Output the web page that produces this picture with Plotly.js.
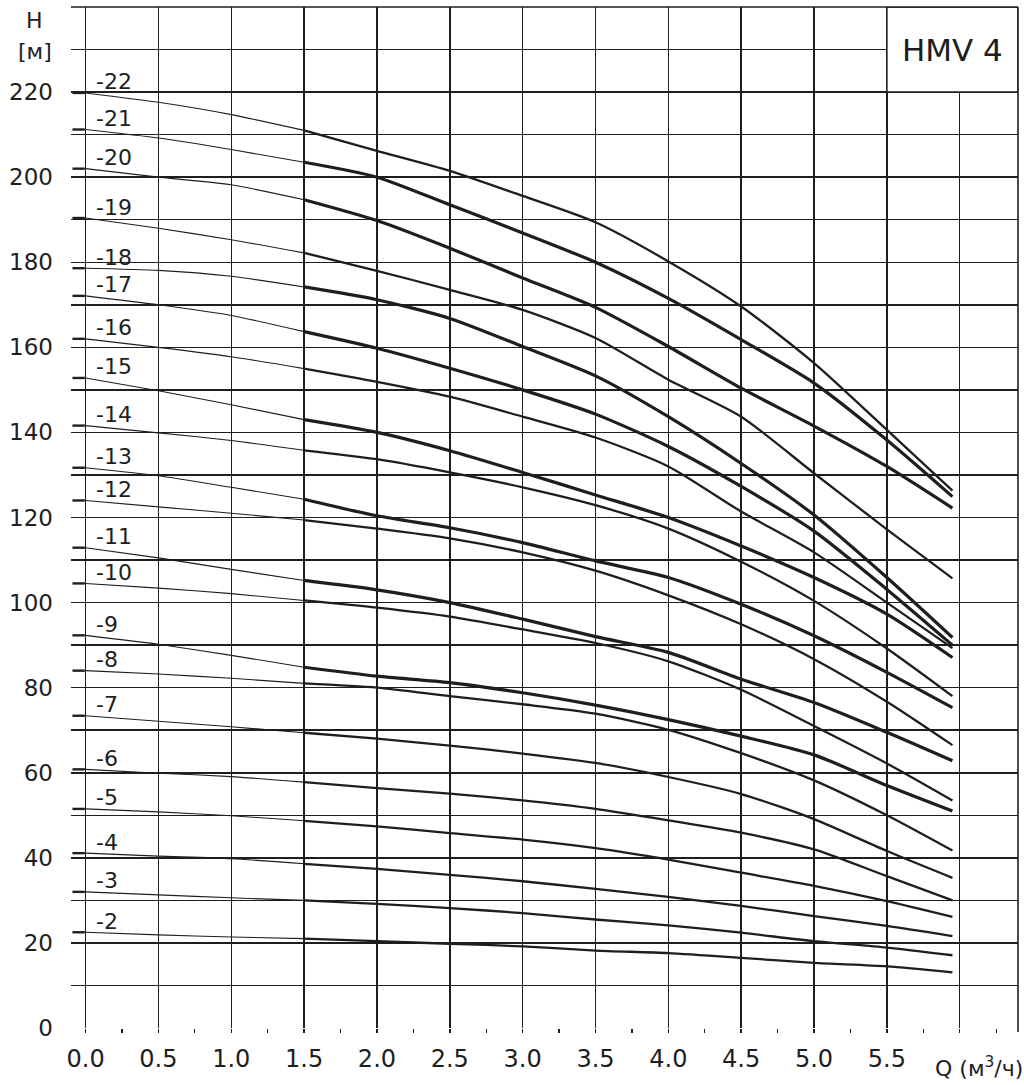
<!DOCTYPE html>
<html>
<head>
<meta charset="utf-8">
<script src="https://cdn.plot.ly/plotly-3.0.1.min.js"></script>
<style>
  html, body { margin: 0; padding: 0; background: #fff; }
  #chart { width: 1024px; height: 1085px; }
</style>
</head>
<body>
<div id="chart"></div>
<script>
// ---- data ----
const qPoints = [0, 0.5, 1.0, 1.5, 2.0, 2.5, 3.0, 3.5, 4.0, 4.5, 5.0, 5.5, 5.95];
const splitIndex = 3; // curve is drawn thin up to Q = 1.5, heavy afterwards

const h22 = [219.8, 217.6, 214.7, 211.0, 206.2, 201.5, 195.6, 189.4, 180.2, 169.6, 156.3, 140.6, 126.3];
const h21 = [211.2, 209.2, 206.5, 203.5, 200.0, 193.5, 186.9, 180.0, 171.5, 161.8, 151.6, 138.2, 124.9];
const h20 = [202.0, 200.0, 198.2, 194.7, 189.8, 183.3, 176.3, 169.4, 160.2, 150.4, 141.5, 132.0, 122.2];
const h19 = [190.4, 188.0, 185.3, 182.2, 178.0, 173.5, 168.8, 162.2, 152.4, 143.7, 130.4, 117.2, 105.7];
const h18 = [178.6, 178.1, 176.7, 174.2, 171.2, 166.8, 160.2, 153.3, 143.7, 132.7, 120.6, 105.9, 91.8];
const h17 = [172.1, 170.0, 167.5, 163.7, 159.8, 155.1, 150.0, 144.3, 136.7, 127.3, 116.8, 103.1, 90.0];
const h16 = [162.0, 160.0, 157.8, 155.0, 151.9, 148.4, 143.7, 138.8, 132.0, 121.4, 111.8, 100.0, 89.3];
const h15 = [152.8, 149.8, 146.5, 143.0, 140.0, 135.7, 130.6, 125.3, 120.0, 113.3, 105.9, 97.3, 87.1];
const h14 = [141.6, 139.9, 138.1, 135.8, 133.7, 130.6, 127.1, 122.9, 117.4, 109.6, 100.4, 89.2, 78.0];
const h13 = [131.7, 129.8, 127.1, 124.3, 120.4, 117.6, 114.1, 109.8, 105.9, 99.6, 92.2, 83.6, 75.3];
const h12 = [124.0, 122.5, 121.0, 119.4, 117.4, 115.1, 111.8, 107.5, 101.7, 94.9, 86.7, 76.7, 66.5];
const h11 = [112.9, 110.5, 107.8, 105.2, 103.0, 100.0, 96.1, 92.0, 88.3, 82.0, 76.5, 69.5, 62.8];
const h10 = [104.5, 103.4, 102.1, 100.5, 98.8, 96.7, 93.7, 90.5, 86.2, 79.5, 71.0, 62.2, 53.5];
const h9  = [92.3, 90.2, 87.6, 84.8, 82.7, 81.2, 78.8, 75.9, 72.5, 68.6, 64.2, 57.0, 51.0];
const h8  = [84.0, 83.2, 82.2, 81.0, 80.0, 78.0, 76.1, 73.9, 70.1, 64.6, 58.2, 50.0, 41.7];
const h7  = [73.4, 72.1, 70.8, 69.4, 68.0, 66.4, 64.5, 62.3, 59.0, 55.0, 49.1, 41.6, 35.3];
const h6  = [60.8, 59.9, 59.1, 57.8, 56.4, 55.1, 53.5, 51.5, 48.8, 45.9, 42.0, 35.7, 30.0];
const h5  = [51.5, 50.8, 49.9, 48.7, 47.4, 45.8, 44.3, 42.3, 39.6, 36.5, 33.4, 29.8, 26.1];
const h4  = [41.1, 40.4, 39.8, 38.6, 37.4, 36.0, 34.5, 32.7, 30.8, 28.7, 26.3, 24.0, 21.6];
const h3  = [32.0, 31.3, 30.6, 30.0, 29.2, 28.2, 27.0, 25.5, 24.1, 22.4, 20.4, 18.9, 17.1];
const h2  = [22.5, 21.9, 21.4, 21.0, 20.4, 19.8, 19.2, 18.2, 17.6, 16.5, 15.3, 14.5, 13.1];

const stageLabels = ['-22','-21','-20','-19','-18','-17','-16','-15','-14','-13','-12','-11',
                     '-10','-9','-8','-7','-6','-5','-4','-3','-2'];
const stageHeads = [h22,h21,h20,h19,h18,h17,h16,h15,h14,h13,h12,h11,h10,h9,h8,h7,h6,h5,h4,h3,h2];
const heavyStages = ['-21','-20','-18','-17','-15','-13','-11','-9'];

const xTickValues = [0,0.5,1,1.5,2,2.5,3,3.5,4,4.5,5,5.5,6];
const xTickLabels = ['0.0','0.5','1.0','1.5','2.0','2.5','3.0','3.5','4.0','4.5','5.0','5.5',' '];
const yGridValues = [0,10,20,30,40,50,60,70,80,90,100,110,120,130,140,150,160,170,180,190,200,210,220,230,240];
const yLabelValues = [0,20,40,60,80,100,120,140,160,180,200,220];

// ---- styling ----
const INK = '#1e1e1e';
const FONT = 'DejaVu Sans, Liberation Sans, Arial, sans-serif';

const traces = [];
const dashX = [], dashY = [];
stageLabels.forEach((lab, i) => {
  const h = stageHeads[i];
  traces.push({
    type: 'scatter', mode: 'lines',
    x: qPoints.slice(0, splitIndex + 1), y: h.slice(0, splitIndex + 1),
    line: {color: INK, width: 1.1, shape: 'spline', smoothing: 0.6},
    hoverinfo: 'skip', showlegend: false
  });
  const heavy = heavyStages.includes(lab);
  traces.push({
    type: 'scatter', mode: 'lines',
    x: qPoints.slice(splitIndex), y: h.slice(splitIndex),
    line: {color: INK, width: heavy ? 3.2 : 2.3, shape: 'spline', smoothing: 0.7},
    hoverinfo: 'skip', showlegend: false
  });
  dashX.push(-0.09, -0.005, null);
  dashY.push(h[0], h[0], null);
});
traces.push({
  type: 'scatter', mode: 'lines', x: dashX, y: dashY,
  line: {color: INK, width: 2.4}, hoverinfo: 'skip', showlegend: false
});

const annotations = stageLabels.map((lab, i) => ({
  x: 0.055, y: stageHeads[i][0], xref: 'x', yref: 'y',
  text: lab, showarrow: false, xanchor: 'left', yanchor: 'middle', yshift: 11,
  font: {family: FONT, size: 22, color: INK}
}));
annotations.push(
  {x: 5.95, y: 230, xref: 'x', yref: 'y', text: 'HMV 4', showarrow: false,
   xanchor: 'center', yanchor: 'middle', font: {family: FONT, size: 31, color: INK}},
  {x: -0.0385, y: 236.8, xref: 'paper', yref: 'y', text: 'H', showarrow: false,
   xanchor: 'center', yanchor: 'middle', font: {family: FONT, size: 22, color: INK}},
  {x: -0.0385, y: 229.6, xref: 'paper', yref: 'y', text: '[м]', showarrow: false,
   xanchor: 'center', yanchor: 'middle', font: {family: FONT, size: 22, color: INK}},
  {x: 6.13, y: 0, xref: 'x', yref: 'paper', text: 'Q (м<sup>3</sup>/ч)', showarrow: false,
   xanchor: 'center', yanchor: 'middle', yshift: -39, font: {family: FONT, size: 22, color: INK}}
);

const layout = {
  width: 1024, height: 1085,
  margin: {l: 71, r: 6, t: 7, b: 57, pad: 0},
  paper_bgcolor: '#ffffff', plot_bgcolor: '#ffffff',
  showlegend: false,
  font: {family: FONT, color: INK},
  xaxis: {
    range: [-0.1, 6.4], tickmode: 'array', tickvals: xTickValues, ticktext: xTickLabels,
    showgrid: true, gridcolor: INK, gridwidth: 1.5,
    ticks: 'outside', ticklen: 4, tickwidth: 1.5, tickcolor: INK,
    minor: {dtick: 0.25, tick0: 0, ticks: 'outside', ticklen: 4, tickwidth: 1.3, tickcolor: INK, showgrid: false},
    zeroline: false, showline: false,
    tickfont: {family: FONT, size: 24, color: INK},
    ticklabelstandoff: 5
  },
  yaxis: {
    range: [0, 240], tickmode: 'array', tickvals: yGridValues,
    ticktext: yGridValues.map(v => yLabelValues.includes(v) ? String(v) : ' '),
    showgrid: true, gridcolor: INK, gridwidth: 1.5,
    ticks: '', zeroline: false, showline: false,
    tickfont: {family: FONT, size: 23, color: INK},
    ticklabelstandoff: 17
  },
  shapes: [
    {type: 'rect', xref: 'x', yref: 'y', x0: 5.5, x1: 6.4, y0: 220, y1: 240,
     fillcolor: '#ffffff', line: {color: INK, width: 1.5}, layer: 'above'},
    {type: 'line', xref: 'paper', yref: 'paper', x0: 1, x1: 1, y0: -0.004, y1: 1,
     line: {color: INK, width: 1.6}, layer: 'above'},
    {type: 'line', xref: 'paper', yref: 'paper', x0: 0, x1: 1, y0: 1, y1: 1,
     line: {color: INK, width: 1.6}, layer: 'above'}
  ],
  annotations: annotations
};

Plotly.newPlot('chart', traces, layout, {staticPlot: true, displayModeBar: false});
</script>
</body>
</html>
